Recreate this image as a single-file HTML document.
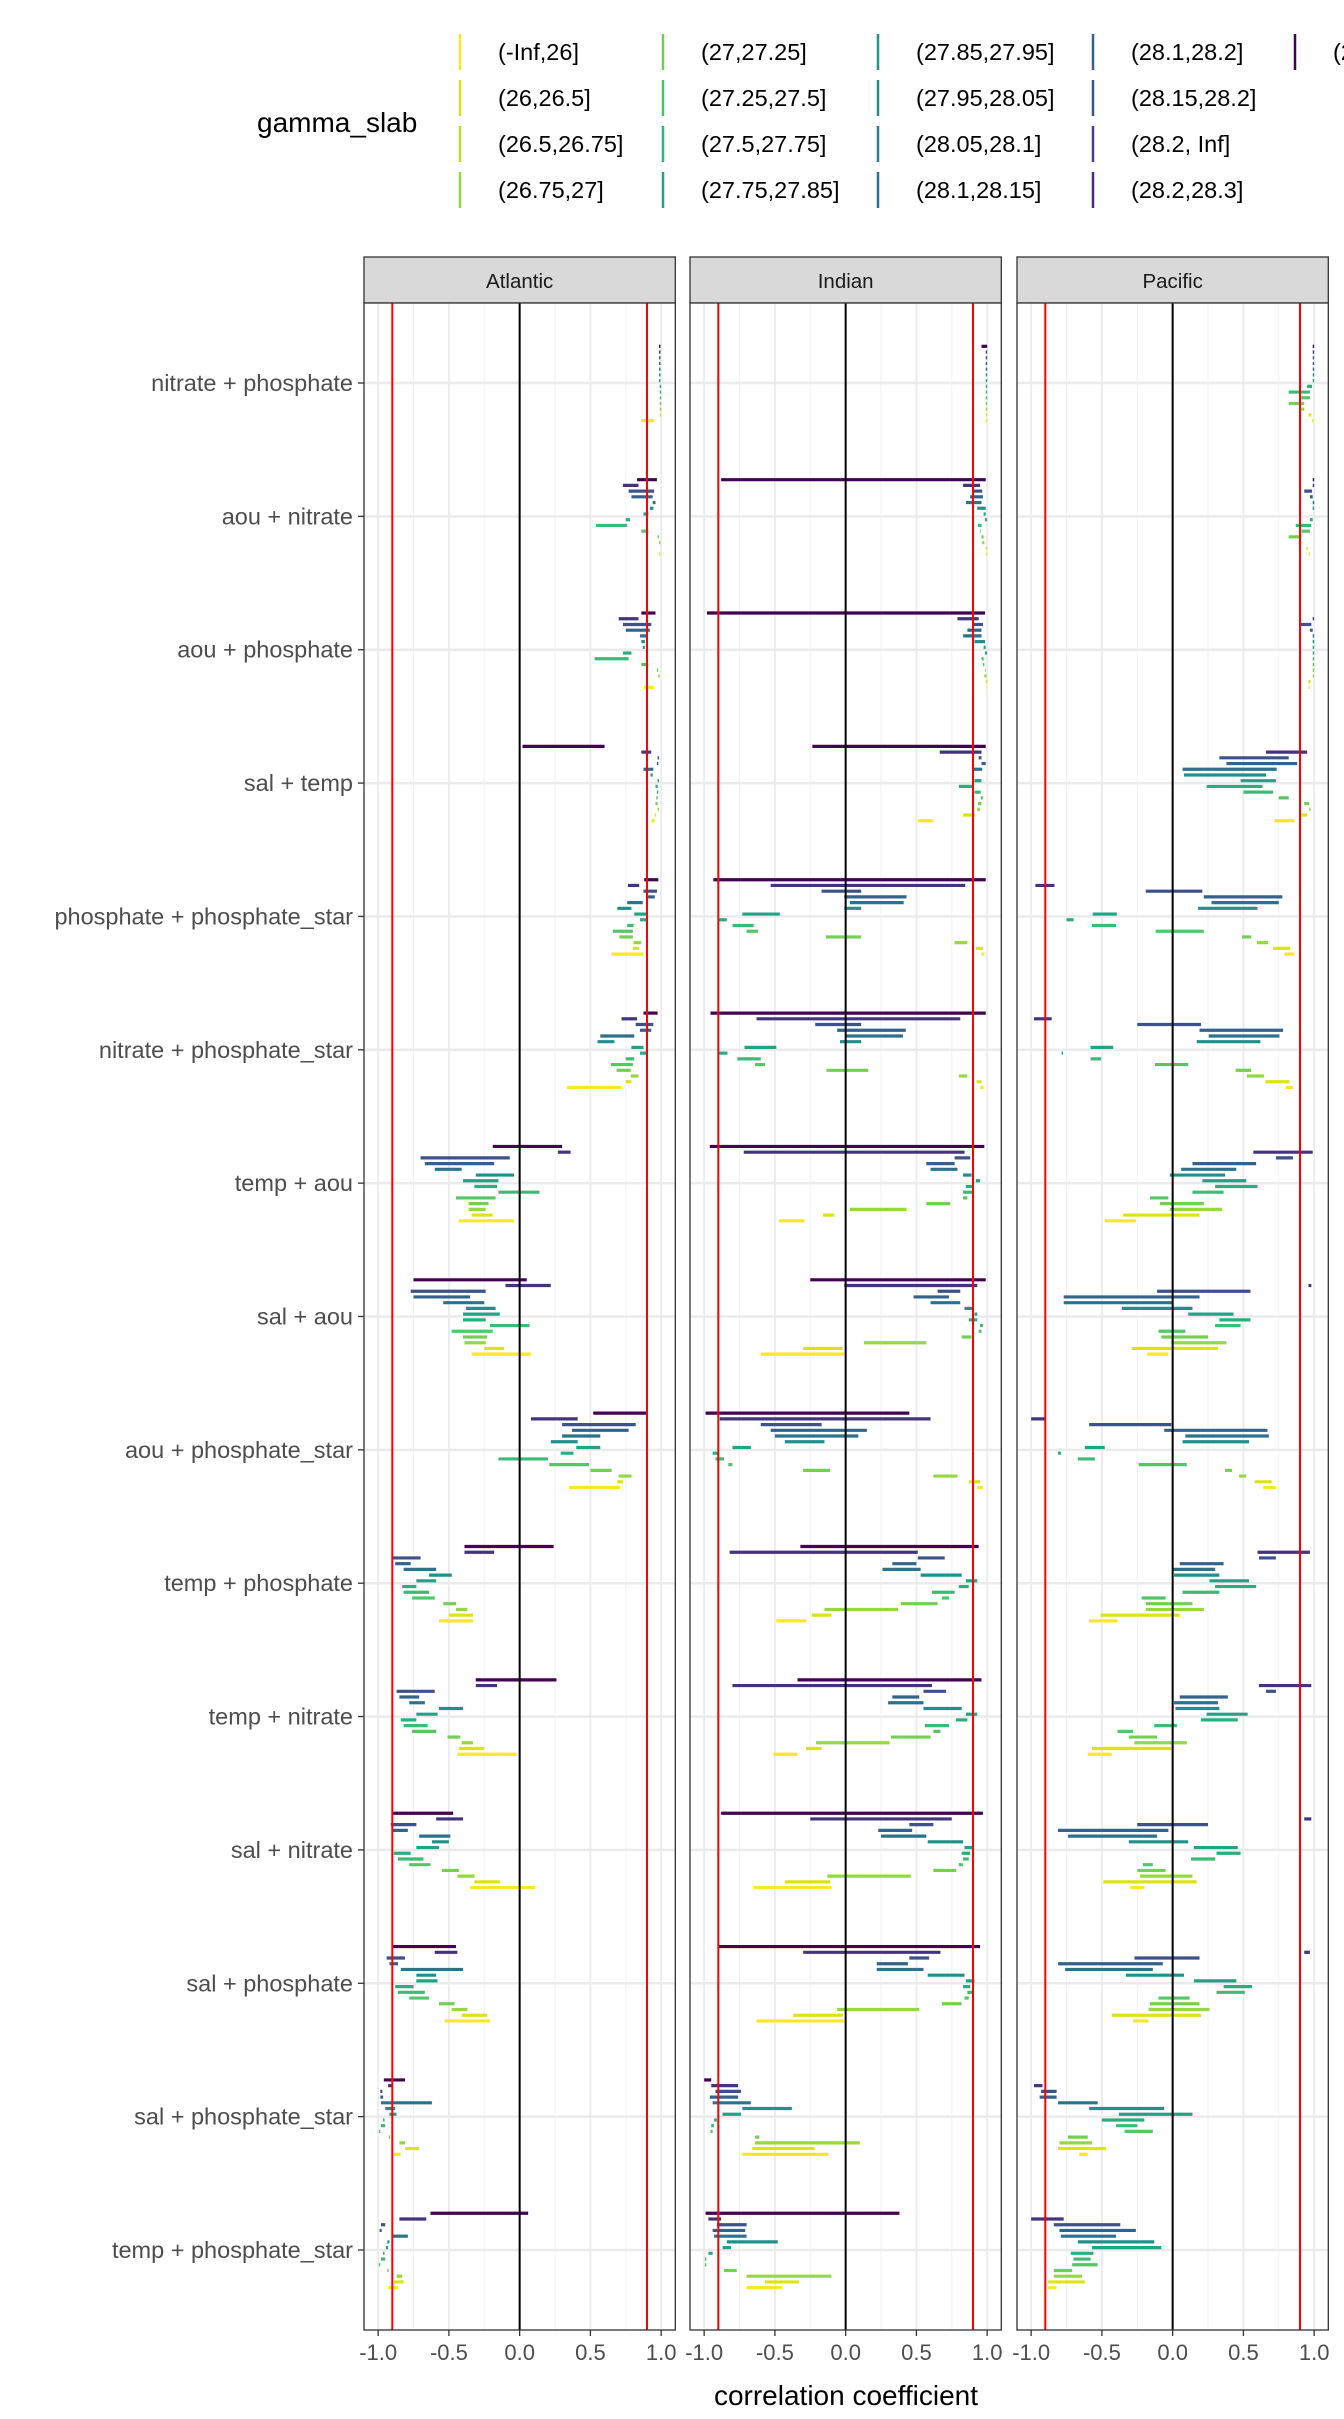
<!DOCTYPE html>
<html><head><meta charset="utf-8">
<style>
html,body{margin:0;padding:0;background:#fff;overflow:hidden;width:1344px;height:2419px}
svg{display:block;font-family:"Liberation Sans",sans-serif}
</style></head>
<body>
<svg id="chart" width="1344" height="2419" viewBox="0 0 1344 2419" xmlns="http://www.w3.org/2000/svg"></svg>
<script>
const categories = ["nitrate + phosphate","aou + nitrate","aou + phosphate","sal + temp","phosphate + phosphate_star","nitrate + phosphate_star","temp + aou","sal + aou","aou + phosphate_star","temp + phosphate","temp + nitrate","sal + nitrate","sal + phosphate","sal + phosphate_star","temp + phosphate_star"];
const basins = ["Atlantic","Indian","Pacific"];
const xTicks = [-1,-0.5,0,0.5,1];
const xTickLabels = ["-1.0","-0.5","0.0","0.5","1.0"];
const thresholds = [-0.9,0.9];
const legendLabels = ["(-Inf,26]","(26,26.5]","(26.5,26.75]","(26.75,27]","(27,27.25]","(27.25,27.5]","(27.5,27.75]","(27.75,27.85]","(27.85,27.95]","(27.95,28.05]","(28.05,28.1]","(28.1,28.15]","(28.1,28.2]","(28.15,28.2]","(28.2, Inf]","(28.2,28.3]","(28.3,28.4]"];
const legendColors = ["#FDE725","#D8E219","#B5DE2B","#8FD744","#6CCE59","#4AC16D","#2FB47C","#21A685","#1F988B","#228B8D","#277F8E","#2C728E","#33638D","#3B528B","#424086","#472D7B","#440154"];
const slotColors = ["#440154","#46337E","#3B528B","#33638D","#2C728E","#21908C","#20A387","#29AF7F","#3CBB75","#55C667","#73D055","#95D840","#DCE318","#FDE725"];

const atlantic = [
[[.985,.995],[.985,.995],[.985,.995],[.985,.995],[.985,.995],[.985,.995],[.985,.995],[.99,1],[.99,1],[.99,1],[.99,1],[.99,1],[.99,1],[.86,.95]],
[[.83,.97],[.73,.84],[.77,.95],[.79,.94],[.94,.96],[.92,.945],[.875,.91],[.75,.78],[.54,.76],[.86,.91],[.975,.985],[.985,.995],0,[.985,.995]],
[[.86,.96],[.70,.84],[.73,.93],[.75,.92],[.85,.90],[.86,.885],[.87,.885],[.73,.79],[.53,.77],[.86,.91],[.97,.98],[.98,.99],0,[.88,.95]],
[[.02,.60],[.86,.93],[.975,.985],[.97,.98],[.875,.945],[.925,.94],[.975,.985],[.96,.975],[.97,.98],[.965,.975],[.96,.975],[.975,.985],[.955,.965],[.93,.955]],
[[.88,.98],[.765,.845],[.875,.97],[.895,.955],[.76,.87],[.69,.79],[.81,.90],[.85,.905],[.76,.805],[.66,.80],[.705,.80],[.805,.86],[.80,.845],[.65,.875]],
[[.875,.975],[.72,.83],[.82,.945],[.85,.93],[.57,.81],[.55,.67],[.79,.875],[.85,.90],[.75,.81],[.645,.80],[.685,.785],[.785,.84],[.75,.79],[.335,.72]],
[[-.19,.30],[.27,.36],[-.70,-.07],[-.67,-.18],[-.60,-.41],[-.31,-.04],[-.40,-.15],[-.32,-.16],[-.15,.14],[-.45,-.17],[-.36,-.22],[-.36,-.24],[-.34,-.19],[-.43,-.04]],
[[-.75,.05],[-.10,.22],[-.77,-.24],[-.75,-.35],[-.54,-.25],[-.38,-.17],[-.40,-.14],[-.40,-.24],[-.21,.07],[-.48,-.19],[-.40,-.23],[-.39,-.24],[-.25,-.11],[-.34,.08]],
[[.52,.90],[.08,.41],[.30,.82],[.37,.77],[.30,.57],[.22,.41],[.40,.57],[.29,.38],[-.15,.20],[.21,.49],[.50,.65],[.70,.79],[.69,.73],[.35,.71]],
[[-.39,.24],[-.39,-.18],[-.90,-.70],[-.88,-.77],[-.82,-.59],[-.64,-.48],[-.73,-.59],[-.83,-.73],[-.82,-.64],[-.76,-.60],[-.54,-.45],[-.45,-.37],[-.50,-.33],[-.57,-.33]],
[[-.31,.26],[-.31,-.16],[-.87,-.60],[-.85,-.71],[-.78,-.67],[-.57,-.40],[-.73,-.58],[-.84,-.73],[-.82,-.65],[-.76,-.59],[-.51,-.42],[-.41,-.33],[-.43,-.25],[-.44,-.02]],
[[-.90,-.47],[-.59,-.40],[-.91,-.73],[-.90,-.79],[-.71,-.49],[-.62,-.50],[-.73,-.57],[-.89,-.77],[-.86,-.68],[-.78,-.63],[-.55,-.43],[-.44,-.32],[-.32,-.14],[-.35,.11]],
[[-.90,-.45],[-.60,-.44],[-.94,-.81],[-.92,-.86],[-.84,-.40],[-.73,-.59],[-.73,-.58],[-.88,-.75],[-.86,-.67],[-.78,-.64],[-.57,-.46],[-.48,-.37],[-.41,-.23],[-.53,-.21]],
[[-.96,-.81],[-.93,-.90],[-.985,-.97],[-.985,-.965],[-.98,-.62],[-.95,-.88],[-.92,-.87],[-.965,-.955],[-.98,-.95],[-.995,-.985],[-.925,-.915],[-.85,-.81],[-.81,-.71],[-.89,-.84]],
[[-.63,.06],[-.85,-.66],[-.98,-.95],[-.99,-.975],[-.90,-.79],[-.935,-.92],[-.945,-.93],[-.965,-.955],[-.98,-.95],[-.995,-.985],[-.935,-.925],[-.87,-.83],[-.89,-.82],[-.93,-.86]]
];
const indian = [
[[.96,1],[.99,1],[.99,1],[.99,1],[.99,1],[.99,1],[.99,1],[.99,1],[.99,1],[.99,1],[.99,1],[.99,1],[.99,1],[.99,1]],
[[-.88,.99],[.83,.95],[.9,.965],[.88,.97],[.85,.96],[.93,.99],[.975,.99],[.985,1],[.935,.96],[.95,.955],[.96,.975],[.965,.98],[.99,1],[.99,1]],
[[-.98,.985],[.79,.94],[.9,.97],[.86,.96],[.83,.96],[.91,.985],[.975,.99],[.985,1],[.96,.975],[.97,.98],[.985,.99],[.98,.995],[.99,1],[.995,1]],
[[-.235,.99],[.665,.96],[.94,.96],[.96,.99],[.9,.965],[.895,.905],[.91,.96],[.8,.905],[.91,.955],[.955,.97],[.935,.96],[.93,.95],[.83,.915],[.51,.62]],
[[-.935,.99],[-.53,.845],[-.17,.11],[-.01,.43],[.03,.41],[-.01,.11],[-.73,-.465],[-.9,-.84],[-.8,-.65],[-.7,-.62],[-.14,.11],[.77,.86],[.92,.97],[.96,.98]],
[[-.955,.99],[-.63,.81],[-.215,.11],[-.06,.425],[0,.405],[-.04,.11],[-.715,-.49],[-.9,-.835],[-.765,-.6],[-.64,-.57],[-.135,.16],[.8,.86],[.925,.96],[.95,.975]],
[[-.96,.98],[-.72,.84],[.77,.88],[.57,.77],[.60,.79],[.83,.89],[.92,.95],[.85,.90],[.83,.90],[.83,.86],[.57,.74],[.03,.43],[-.16,-.08],[-.47,-.29]],
[[-.25,.99],[-.01,.93],[.65,.81],[.48,.73],[.60,.81],[.84,.90],[.91,.93],[.87,.93],[.95,.97],[.94,.96],[.82,.89],[.13,.57],[-.30,-.02],[-.60,-.01]],
[[-.99,.45],[-.89,.60],[-.60,-.17],[-.53,.15],[-.50,.09],[-.43,-.15],[-.80,-.67],[-.94,-.90],[-.92,-.86],[-.83,-.80],[-.30,-.11],[.62,.79],[.87,.95],[.93,.97]],
[[-.32,.94],[-.82,.51],[.51,.70],[.33,.50],[.26,.53],[.53,.82],[.85,.93],[.80,.87],[.61,.77],[.68,.73],[.39,.65],[-.15,.37],[-.24,-.10],[-.49,-.28]],
[[-.34,.96],[-.80,.61],[.55,.71],[.33,.52],[.30,.55],[.55,.82],[.85,.93],[.78,.86],[.56,.73],[.62,.67],[.32,.60],[-.21,.31],[-.28,-.17],[-.51,-.34]],
[[-.88,.97],[-.25,.75],[.45,.62],[.23,.47],[.25,.57],[.58,.83],[.84,.90],[.82,.88],[.83,.87],[.80,.83],[.62,.78],[-.13,.46],[-.43,-.11],[-.65,-.10]],
[[-.90,.95],[-.30,.67],[.45,.59],[.22,.44],[.22,.55],[.58,.84],[.85,.91],[.83,.88],[.86,.90],[.84,.87],[.68,.82],[-.06,.52],[-.37,-.02],[-.63,-.01]],
[[-1,-.95],[-.95,-.76],[-.92,-.74],[-.96,-.76],[-.94,-.67],[-.73,-.38],[-.87,-.74],[-.93,-.91],[-.95,-.93],[-.955,-.94],[-.64,-.61],[-.64,.10],[-.66,-.22],[-.73,-.12]],
[[-.99,.38],[-.97,-.88],[-.91,-.70],[-.94,-.71],[-.93,-.70],[-.84,-.48],[-.87,-.81],[-.97,-.94],[-.995,-.985],[-.995,-.985],[-.86,-.77],[-.70,-.10],[-.57,-.33],[-.70,-.45]]
];
const pacific = [
[[.99,1],[.99,1],[.99,1],[.99,1],[.99,1],[.99,1],[.99,1],[.95,.985],[.82,.97],[.9,.97],[.82,.93],[.9,.93],[.96,.98],[.985,.995]],
[[.99,1],[.99,1],[.93,.985],[.97,.99],[.99,1],[.99,1],0,[.97,.99],[.87,.98],[.91,.97],[.82,.91],[.89,.91],[.945,.955],[.96,.97]],
[0,[.99,1],[.9,.98],[.97,.99],[.99,1],[.99,1],[.99,1],[.99,1],[.99,1],[.99,1],[.99,1],[.99,1],[.96,.975],[.96,.97]],
[0,[.66,.95],[.33,.82],[.38,.88],[.07,.735],[.08,.66],[.48,.73],[.24,.635],[.50,.71],[.75,.82],[.93,.965],[.965,.975],[.91,.95],[.72,.86]],
[0,[-.97,-.835],[-.19,.21],[.22,.775],[.275,.75],[.18,.60],[-.565,-.395],[-.75,-.70],[-.57,-.40],[-.12,.22],[.49,.555],[.595,.675],[.71,.83],[.79,.86]],
[0,[-.98,-.855],[-.25,.20],[.19,.78],[.255,.755],[.17,.62],[-.58,-.42],[-.785,-.775],[-.58,-.505],[-.125,.11],[.445,.555],[.525,.645],[.655,.825],[.80,.85]],
[0,[.57,.99],[.73,.85],[.14,.59],[.06,.45],[-.02,.37],[.21,.52],[.30,.60],[.14,.36],[-.16,-.03],[-.09,.22],[-.02,.35],[-.35,.19],[-.48,-.26]],
[0,[.96,.98],[-.11,.55],[-.77,.19],[-.77,0],[-.36,.14],[.11,.43],[.33,.55],[.30,.48],[-.10,.09],[-.08,.25],[-.01,.38],[-.29,.32],[-.18,-.03]],
[0,[-1,-.90],[-.59,-.01],[-.06,.67],[.09,.68],[.07,.54],[-.62,-.48],[-.81,-.79],[-.67,-.55],[-.24,.10],[.37,.42],[.47,.52],[.58,.70],[.64,.73]],
[0,[.60,.97],[.61,.73],[.05,.36],[0,.30],[.01,.33],[.26,.54],[.30,.59],[.07,.33],[-.22,-.05],[-.19,.14],[-.19,.22],[-.51,.05],[-.59,-.39]],
[0,[.61,.98],[.66,.73],[.05,.39],[.01,.32],[.02,.33],[.24,.53],[.20,.46],[-.13,.03],[-.39,-.28],[-.31,-.11],[-.27,.10],[-.57,.01],[-.60,-.43]],
[0,[.93,.98],[-.25,.25],[-.81,-.03],[-.74,-.11],[-.31,.11],[.15,.46],[.31,.48],[.13,.30],[-.21,-.14],[-.25,-.05],[-.23,.14],[-.49,.17],[-.30,-.20]],
[0,[.93,.97],[-.27,.19],[-.81,-.07],[-.76,-.14],[-.33,.08],[.15,.45],[.36,.56],[.31,.51],[-.10,.12],[-.16,.19],[-.17,.26],[-.43,.20],[-.28,-.17]],
[0,[-.98,-.92],[-.93,-.82],[-.94,-.82],[-.81,-.53],[-.59,-.06],[-.38,.14],[-.50,-.20],[-.40,-.25],[-.34,-.14],[-.74,-.60],[-.80,-.57],[-.81,-.47],[-.66,-.60]],
[0,[-1,-.77],[-.84,-.37],[-.80,-.26],[-.79,-.40],[-.67,-.13],[-.57,-.08],[-.72,-.56],[-.70,-.58],[-.71,-.53],[-.84,-.71],[-.84,-.64],[-.88,-.62],[-.88,-.82]]
];
const basinData = [atlantic, indian, pacific];

const NS = "http://www.w3.org/2000/svg";
const svg = document.getElementById("chart");
function mk(tag, attrs, parent){
  const e = document.createElementNS(NS, tag);
  for (const k in attrs) e.setAttribute(k, attrs[k]);
  (parent||svg).appendChild(e);
  return e;
}
const panelLeft = [364, 690, 1017];
const panelW = 311.3;
const panelTop = 303, panelBottom = 2330;
const stripTop = 257;
function xs(p, v){ return panelLeft[p] + (v + 1.1) / 2.2 * panelW; }
const rowStep = (panelBottom - panelTop) / 15.2;
function ys(i){ return panelTop + (i + 0.6) * rowStep; }
const slotStep = 5.72;

const lg = mk("g", {});


const lt = mk("text", {x:257, y:132, "font-size":28, fill:"#000"}, lg);
lt.textContent = "gamma_slab";


const colKeyX = [460, 663, 878, 1093, 1295];
const rowKeyY = [52, 98, 144, 190];
legendLabels.forEach((lab, i) => {
  const c = Math.floor(i / 4), r = i % 4;
  const g = mk("g", {}, lg);
  
  
  mk("line", {x1:colKeyX[c], x2:colKeyX[c], y1:rowKeyY[r]-18, y2:rowKeyY[r]+18, stroke:legendColors[i], "stroke-width":2.5}, g);
  const t = mk("text", {x:colKeyX[c]+38, y:rowKeyY[r]+8, "font-size":23.5, fill:"#000"}, g);
  t.textContent = lab;
});

basins.forEach((b, p) => {
  const L = panelLeft[p], R = L + panelW;
  const g = mk("g", {});
  
  
  const st = mk("rect", {x:L, y:stripTop, width:panelW, height:panelTop-stripTop, fill:"#D9D9D9", stroke:"#333", "stroke-width":1.3}, g);
  
  
  const stt = mk("text", {x:(L+R)/2, y:288, "font-size":20.5, "text-anchor":"middle", fill:"#1A1A1A"}, g);
  stt.textContent = b;
  mk("rect", {x:L, y:panelTop, width:panelW, height:panelBottom-panelTop, fill:"#fff"}, g);
  [-0.75,-0.25,0.25,0.75].forEach(v => mk("line", {x1:xs(p,v), x2:xs(p,v), y1:panelTop, y2:panelBottom, stroke:"#F2F2F2", "stroke-width":1}, g));
  xTicks.forEach(v => mk("line", {x1:xs(p,v), x2:xs(p,v), y1:panelTop, y2:panelBottom, stroke:"#EBEBEB", "stroke-width":1.8}, g));
  categories.forEach((c, i) => mk("line", {x1:L, x2:R, y1:ys(i), y2:ys(i), stroke:"#EBEBEB", "stroke-width":2.5}, g));
  basinData[p].forEach((row, i) => {
    row.forEach((seg, k) => {
      if (!seg) return;
      const y = ys(i) - 36.7 + k * slotStep;
      const l = mk("line", {x1:xs(p,seg[0]), x2:xs(p,seg[1]), y1:y, y2:y, stroke:slotColors[k], "stroke-width":3.2}, g);
      
      
    });
  });
  const zl = mk("line", {x1:xs(p,0), x2:xs(p,0), y1:panelTop, y2:panelBottom, stroke:"#000", "stroke-width":2}, g);
  
  
  thresholds.forEach(v => {
    const rl = mk("line", {x1:xs(p,v), x2:xs(p,v), y1:panelTop, y2:panelBottom, stroke:"#FF0000", "stroke-width":2}, g);
    
    
  });
  mk("rect", {x:L, y:panelTop, width:panelW, height:panelBottom-panelTop, fill:"none", stroke:"#333", "stroke-width":1.3}, g);
  xTicks.forEach((v, j) => {
    mk("line", {x1:xs(p,v), x2:xs(p,v), y1:panelBottom, y2:panelBottom+6, stroke:"#333", "stroke-width":1.3}, g);
    const t = mk("text", {x:xs(p,v), y:panelBottom+30, "font-size":22, "text-anchor":"middle", fill:"#4D4D4D"}, g);
    t.textContent = xTickLabels[j];
    
    
  });
});

categories.forEach((c, i) => {
  mk("line", {x1:358, x2:364, y1:ys(i), y2:ys(i), stroke:"#333", "stroke-width":1.3});
  const t = mk("text", {x:353, y:ys(i)+8, "font-size":23.5, "text-anchor":"end", fill:"#4D4D4D"});
  t.textContent = c;
  
  
});
const xt = mk("text", {x:846, y:2405, "font-size":28, "text-anchor":"middle", fill:"#000"});
xt.textContent = "correlation coefficient";


</script>
</body></html>
